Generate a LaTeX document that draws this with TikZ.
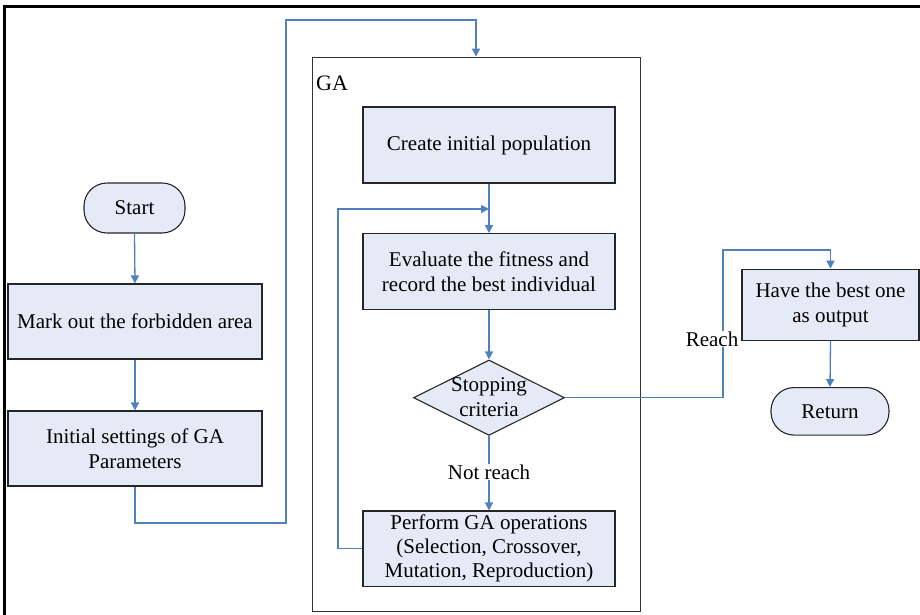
\documentclass[tikz,border=0pt]{standalone}
\usepackage{fontspec}
\setmainfont{Liberation Serif}
\usetikzlibrary{shapes.geometric,arrows.meta}
\definecolor{boxfill}{RGB}{229,235,246}
\definecolor{conncol}{RGB}{79,129,189}
\begin{document}
\begin{tikzpicture}[x=1pt,y=-1pt,
  font=\fontsize{21}{25}\selectfont,
  box/.style={draw=black!85, fill=boxfill, line width=1.1pt, align=center, inner sep=0pt},
  term/.style={box, rounded corners=23pt},
  conn/.style={draw=conncol, line width=1.3pt},
  arr/.style={conn, -{Triangle[length=8pt,width=8pt]}},
  lbl/.style={fill=white, inner sep=1pt}]
\useasboundingbox (0,0) rectangle (920,614);
\draw[line width=3pt] (4.5,616) -- (4.5,6) -- (922,6);
% GA container
\node[draw=black!80, line width=1pt, minimum width=328pt, minimum height=554.5pt, inner sep=0pt] (ga) at (476,334.25) {};
\node[anchor=base west, inner sep=0pt, font=\fontsize{22}{26}\selectfont] (galabel) at (316,90) {GA};
% left column
\node[term, minimum width=101pt, minimum height=50pt] (start) at (134.5,208) {Start};
\node[box, minimum width=254pt, minimum height=75pt] (mark) at (135,321.5) {Mark out the forbidden area};
\node[box, minimum width=254pt, minimum height=75pt] (init) at (135,448.5) {Initial settings of GA\\Parameters};
% GA column
\node[box, minimum width=252pt, minimum height=76pt] (create) at (489,145) {Create initial population};
\node[box, minimum width=252pt, minimum height=75.6pt] (eval) at (489,271.5) {Evaluate the fitness and\\record the best individual};
\node[diamond, draw=black!85, fill=boxfill, line width=1.1pt, inner sep=0pt, minimum width=151pt, minimum height=75.4pt] (dec) at (489,397.7) {};
\node[align=center, inner sep=0pt] (dectext) at (489,397) {Stopping\\criteria};
\node[box, minimum width=252pt, minimum height=75.5pt, font=\fontsize{21}{24}\selectfont] (perform) at (489,548.75) {Perform GA operations\\(Selection, Crossover,\\Mutation, Reproduction)};
% right column
\node[box, minimum width=177pt, minimum height=71pt] (have) at (830.5,304.6) {Have the best one\\as output};
\node[term, minimum width=118pt, minimum height=47.5pt] (ret) at (830,411.3) {Return};
% coordinates
\coordinate (c1) at (286,523);
\coordinate (c2) at (286,20);
\coordinate (c3) at (476,20);
\coordinate (fbl) at (338,209);
\coordinate (fb) at (489,209);
\coordinate (r1) at (723,397.7);
\coordinate (r2) at (723,250);
\coordinate (r3) at (830.5,250);
% connectors
\draw[arr] (start.south) -- (mark.north);
\draw[arr] (mark.south) -- (init.north);
\draw[arr] (init.south) |- (c1) -- (c2) -- (c3) -- (ga.north);
\draw[arr] (create.south) -- (eval.north);
\draw[arr] (perform.west) -| (fbl) -- (fb);
\draw[arr] (eval.south) -- (dec.north);
\draw[arr] (dec.south) -- (perform.north);
\node[lbl] (notreach) at (489,472) {Not reach};
\draw[arr] (dec.east) -- (r1) -- (r2) -- (r3) -- (have.north);
\node[lbl] (reach) at (712,339) {Reach};
\draw[arr] (have.south) -- (ret.north);
\end{tikzpicture}
\end{document}
